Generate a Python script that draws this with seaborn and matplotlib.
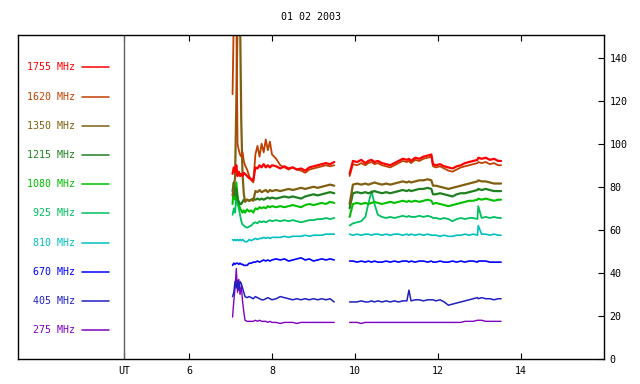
import matplotlib
matplotlib.use("Agg")
import matplotlib.pyplot as plt
import pandas as pd
import seaborn as sns

# ---------------- data ----------------
t_seg1 = [7.05, 7.08, 7.11, 7.14, 7.17, 7.20, 7.23, 7.26, 7.29, 7.32, 7.35, 7.40, 7.45,
          7.50, 7.55, 7.60, 7.65, 7.70, 7.75, 7.80, 7.85, 7.90, 7.95, 8.00, 8.1, 8.2,
          8.3, 8.4, 8.5, 8.6, 8.7, 8.8, 8.9, 9.0, 9.1, 9.2, 9.3, 9.4, 9.5]
t_seg2 = [9.87, 9.95, 10.05, 10.15, 10.25, 10.32, 10.40, 10.47, 10.55, 10.65, 10.75,
          10.85, 10.95, 11.05, 11.15, 11.25, 11.30, 11.35, 11.45, 11.55, 11.65, 11.75,
          11.84, 11.88, 11.95, 12.05, 12.15, 12.25, 12.35, 12.45, 12.55, 12.65, 12.75,
          12.85, 12.95, 12.97, 13.05, 13.15, 13.25, 13.35, 13.45, 13.52]

freqs = ["1755 MHz", "1620 MHz", "1350 MHz", "1215 MHz", "1080 MHz",
         "925 MHz", "810 MHz", "670 MHz", "405 MHz", "275 MHz"]
colors = ["#ff0000", "#c04000", "#806010", "#208020", "#00c000",
          "#00c060", "#00c0c0", "#0000ff", "#2020c0", "#8000c0"]
widths = [1.6, 1.3, 1.6, 1.6, 1.5, 1.3, 1.2, 1.2, 1.1, 1.0]

f1755_a = [86, 89, 87, 90, 85, 87, 85, 86, 85, 86.5, 86, 85, 84, 83.5, 83, 89, 88.5, 90, 89,
           90.5, 89, 90, 89, 90, 89.5, 88.5, 89.5, 88.5, 89, 88, 88.5, 87.5, 89, 89.5, 90,
           90.5, 91, 90.5, 91.5]
f1755_b = [86, 92, 91.5, 92.5, 91, 92, 92.5, 91.5, 92, 91, 90.5, 90, 91, 92, 93, 92.5, 93, 92,
           93.5, 93, 94, 94.5, 95, 90.5, 90, 90.5, 89.5, 89, 88.5, 89.5, 90, 91, 91.5, 92,
           92.5, 93.5, 93, 93.5, 92.5, 93, 92, 92]
f1620_a = [123, 160, 160, 160, 100, 97, 95, 94, 96, 92, 90, 88, 85, 83, 82, 95, 99, 94, 100,
           96, 102, 97, 101, 95, 93, 90, 89, 88, 89, 88, 87.5, 86.5, 88, 88.5, 89, 89.5, 90,
           89.5, 90]
f1620_b = [85, 90.5, 90, 91, 90, 91, 91.5, 90.5, 91, 90, 89.5, 89, 90, 91, 92, 91.5, 92, 91,
           92.5, 92, 93, 93.5, 94, 89.5, 89, 89.5, 88.5, 87.5, 87, 88, 89, 89.5, 90, 90.5,
           91, 91.5, 91, 91.5, 90.5, 91, 90, 90]
f1350_a = [76, 80, 84, 118, 160, 160, 160, 110, 86, 77, 73, 74, 73.5, 74, 73.5, 78, 77.5,
           78.5, 77.5, 78, 78.5, 77.5, 78.5, 78, 78.5, 78, 78.5, 79, 78.5, 79, 79.5, 79,
           79.5, 80, 79.5, 80, 80.5, 81, 80.5]
f1350_b = [72, 81, 81.5, 81, 81.5, 81, 81.5, 82, 81.5, 81, 81.5, 81, 81.5, 82, 82.5, 82,
           82.5, 82, 82.5, 83, 83, 83.5, 83, 80.5, 80.5, 80, 79.5, 79, 79.5, 80, 80.5, 81,
           81.5, 82, 82.5, 83, 82.5, 82.5, 82, 81.5, 81.5, 81.5]
f1215_a = [78, 82, 76, 79, 74, 73, 72, 72, 73, 74, 73.5, 74, 73.5, 74, 74.5, 74, 74.5, 74,
           74.5, 74, 74.5, 75, 74.5, 75, 74.5, 75, 75.5, 75, 75.5, 75, 74.5, 75.5, 76, 76.5,
           76, 76.5, 77, 77.5, 77]
f1215_b = [70, 77, 77.5, 77, 77.5, 77, 77.5, 78, 77.5, 77, 77.5, 77, 77.5, 78, 78.5, 78,
           78.5, 78, 78.5, 79, 79, 79.5, 79, 76.5, 76.5, 77, 76.5, 76, 75.5, 76.5, 77, 77,
           77.5, 78, 78.5, 79, 78.5, 79, 78.5, 78, 78, 78]
f1080_a = [72, 80, 74, 82, 76, 72, 70, 69, 68, 69, 68, 69.5, 68.5, 69, 68, 70, 69.5, 70.5,
           70, 70.5, 70, 71, 70.5, 71, 70.5, 71, 70.5, 71, 71.5, 71, 70.5, 71.5, 72, 71.5,
           72, 72.5, 72, 73, 72.5]
f1080_b = [66, 72, 72.5, 72, 72.5, 72, 72.5, 73, 72.5, 72, 72.5, 73, 72.5, 73, 73.5, 73,
           73.5, 73, 73.5, 73, 73.5, 74, 73.5, 72, 72.5, 72, 71.5, 71, 71.5, 72, 72.5, 73,
           73.5, 73.5, 74, 74.5, 74, 74.5, 74, 73.5, 74, 74]
f925_a = [67, 70, 68, 75, 72, 70, 67, 64, 62.5, 62, 61.5, 61, 61.5, 62, 63, 63.5, 63, 64,
          63.5, 64, 63.5, 64, 64.5, 64, 64.5, 64, 64.5, 64, 64.5, 64, 63.5, 64, 64.5, 64.5,
          65, 65, 65.5, 65, 65.5]
f925_b = [62, 63, 63.5, 64, 66, 72, 78, 72, 67, 66, 65.5, 66, 65.5, 66, 66.5, 66, 66.5, 66,
          66, 66.5, 66, 66.5, 66, 65.5, 65.5, 65, 65.5, 65, 64, 65, 65.5, 65, 65.5, 65.5,
          65, 71, 65.5, 66, 65.5, 66, 65.5, 65.5]
f810_a = [55.5, 55, 55.5, 55, 55.5, 55, 55.5, 55, 55.5, 55, 54.5, 54.5, 55.5, 55, 55.5, 56,
          55.5, 56, 56, 56.5, 56, 56.5, 56, 56.5, 56.5, 56.5, 57, 56.5, 57, 57, 57, 57.5,
          57, 57.5, 57.5, 57.5, 58, 58, 58]
f810_b = [58, 57.5, 58, 57.5, 58, 58, 57.5, 58, 58, 57.5, 58, 57.5, 58, 58, 57.5, 58, 57.5,
          58, 57.5, 58, 57.5, 58, 57.5, 57.5, 57.5, 57, 57.5, 57, 57, 57.5, 57.5, 58, 57.5,
          58, 57.5, 62, 58, 58, 57.5, 58, 57.5, 57.5]
f670_a = [43.5, 44.5, 44, 44.5, 44.5, 44, 44.5, 44, 44, 43.5, 43.5, 43.5, 44.5, 44.5, 45,
          45, 45.5, 45, 45.5, 46, 45.5, 46, 45.5, 46, 46.5, 46, 46.5, 45.5, 46, 46.5, 47,
          46, 46.5, 45.5, 46, 46.5, 46, 46.5, 46]
f670_b = [45.5, 45.5, 45, 45.5, 45, 45.5, 45, 45.5, 45, 45, 45.5, 45, 45.5, 45, 45.5, 45.5,
          45, 45.5, 45, 45.5, 45.5, 45, 45.5, 45, 45, 45.5, 45, 45, 45.5, 45, 45.5, 45,
          45.5, 45.5, 45, 45.5, 45.5, 45.5, 45, 45, 45, 45]
f405_a = [29, 31, 36, 33, 36.5, 32, 36, 35, 33, 31, 29, 28.5, 29, 28.5, 28, 29, 28.5, 28,
          27.5, 27.5, 28, 28.5, 28, 27.5, 28, 29, 28.5, 28, 27.5, 28, 27.5, 28, 27.5, 28,
          27.5, 28, 27.5, 28, 26.5]
f405_b = [26.5, 26.5, 26.5, 27, 26.5, 26.5, 27, 26.5, 27, 26.5, 27, 26.5, 27, 26.5, 27, 27,
          32, 27, 27.5, 27.5, 27, 27.5, 27.5, 27.5, 27, 27.5, 26.5, 25, 25.5, 26, 26.5, 27,
          27.5, 28, 28.5, 28, 28.5, 28, 28, 27.5, 28, 28]
f275_a = [19.5, 27, 33, 42, 31, 37, 30, 34, 27, 22, 18, 17.5, 17.5, 17.5, 17.5, 18, 17.5,
          18, 17.5, 17.5, 17.5, 17, 17.5, 17, 17, 16.5, 17, 17, 17, 16.5, 17, 17, 17, 17,
          17, 17, 17, 17, 17]
f275_b = [17, 17, 17, 16.5, 17, 17, 17, 17, 17, 17, 17, 17, 17, 17, 17, 17, 17, 17, 17, 17,
          17, 17, 17, 17, 17, 17, 17, 17, 17, 17, 17, 17.5, 17.5, 17.5, 18, 18, 18, 17.5,
          17.5, 17.5, 17.5, 17.5]

series = {
    "1755 MHz": (f1755_a, f1755_b), "1620 MHz": (f1620_a, f1620_b),
    "1350 MHz": (f1350_a, f1350_b), "1215 MHz": (f1215_a, f1215_b),
    "1080 MHz": (f1080_a, f1080_b), "925 MHz": (f925_a, f925_b),
    "810 MHz": (f810_a, f810_b), "670 MHz": (f670_a, f670_b),
    "405 MHz": (f405_a, f405_b), "275 MHz": (f275_a, f275_b),
}

rows = []
for name, (a, b) in series.items():
    for t, v in zip(t_seg1, a):
        rows.append((name, 1, t, v))
    for t, v in zip(t_seg2, b):
        rows.append((name, 2, t, v))
df = pd.DataFrame(rows, columns=["freq", "seg", "hour", "flux"])
palette = dict(zip(freqs, colors))
size_map = dict(zip(freqs, widths))

# ---------------- plot ----------------
sns.set_style("white")
plt.rcParams["font.family"] = ["DejaVu Sans Mono"]
FS = 7.2

fig = plt.figure(figsize=(6.4, 3.84), dpi=100)
ax = fig.add_axes([18 / 640, 25 / 384, 586 / 640, 324 / 384])

sns.lineplot(data=df, x="hour", y="flux", hue="freq", size="freq", sizes=size_map,
             units="seg", estimator=None, sort=False, palette=palette,
             hue_order=freqs[::-1], size_order=freqs[::-1], legend=False, ax=ax)

ax.axvline(4.43, color="#606060", lw=1.0)

ax.set_xlim(1.88, 16.0)
ax.set_ylim(0, 150.5)
ax.set_xlabel("")
ax.set_ylabel("")

ax.set_xticks([4.43, 6, 8, 10, 12, 14])
ax.set_xticklabels(["UT", "6", "8", "10", "12", "14"])
ax.tick_params(axis="x", direction="in", length=4, width=0.8, top=True, bottom=True,
               labelsize=FS, pad=5, colors="black")
ax.yaxis.tick_right()
ax.set_yticks(range(0, 141, 20))
ax.tick_params(axis="y", direction="in", length=4, width=0.8, right=True, left=False,
               labelright=True, labelleft=False, labelsize=FS, pad=4, colors="black")

for sp in ax.spines.values():
    sp.set_visible(True)
    sp.set_color("black")
    sp.set_linewidth(1.0)

# legend in left panel
for i, (name, col) in enumerate(zip(freqs, colors)):
    y = 0.900 - i * 0.0901
    ax.plot([0.109, 0.156], [y, y], transform=ax.transAxes, color=col, lw=1.1)
    ax.text(0.097, y, name, transform=ax.transAxes, ha="right", va="center",
            color=col, fontsize=FS)

fig.text(311 / 640, 1 - 17 / 384, "01 02 2003", ha="center", va="center",
         fontsize=FS, color="black")

fig.savefig("out.png", dpi=100, facecolor="white")
